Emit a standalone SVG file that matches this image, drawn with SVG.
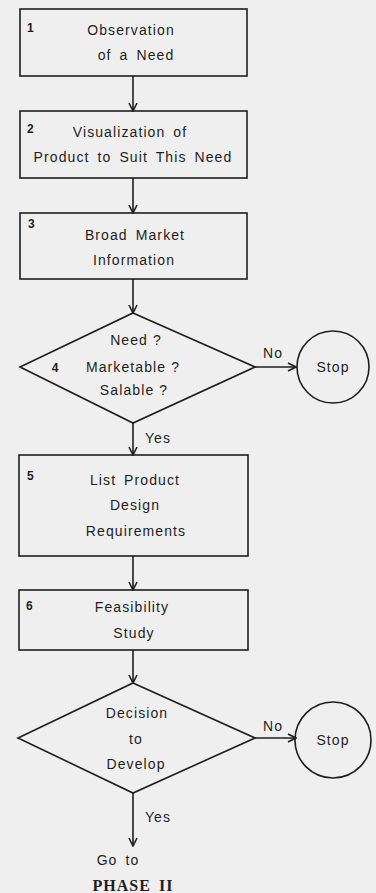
<svg xmlns="http://www.w3.org/2000/svg" width="376" height="893" viewBox="0 0 376 893">
<style>
.bg{fill:#efefef}
.shape{fill:none;stroke:#1e1e1e;stroke-width:1.6}
.conn{stroke:#1e1e1e;stroke-width:1.6;fill:none}
text{font-family:"Liberation Sans",Arial,sans-serif;font-size:14px;fill:#1e1e1e;letter-spacing:1.1px;word-spacing:3px}
.c{text-anchor:middle}
.q{word-spacing:0}
.num{font-size:12px;font-weight:bold;letter-spacing:0}
.serif{font-family:"Liberation Serif","Times New Roman",serif;font-weight:bold;font-size:16px;letter-spacing:1px}
</style>
<defs>
<marker id="arr" viewBox="0 0 10 10" refX="9" refY="5" markerWidth="10" markerHeight="10" markerUnits="userSpaceOnUse" orient="auto">
<polyline points="1,1 9,5 1,9" fill="none" stroke="#1e1e1e" stroke-width="1.6"/>
</marker>
</defs>
<rect class="bg" x="0" y="0" width="376" height="893"/>
<g id="connectors">
<line class="conn" x1="133" y1="76" x2="133" y2="111" marker-end="url(#arr)"/>
<line class="conn" x1="133" y1="178" x2="133" y2="213" marker-end="url(#arr)"/>
<line class="conn" x1="133" y1="279" x2="133" y2="313" marker-end="url(#arr)"/>
<line class="conn" x1="255" y1="367" x2="296" y2="367" marker-end="url(#arr)"/>
<line class="conn" x1="133" y1="423" x2="133" y2="455" marker-end="url(#arr)"/>
<line class="conn" x1="133" y1="556" x2="133" y2="590" marker-end="url(#arr)"/>
<line class="conn" x1="133" y1="650" x2="133" y2="683" marker-end="url(#arr)"/>
<line class="conn" x1="255" y1="738" x2="296" y2="738" marker-end="url(#arr)"/>
<line class="conn" x1="133" y1="793" x2="133" y2="846" marker-end="url(#arr)"/>
<text x="273" y="358" class="c">No</text>
<text x="158" y="443" class="c">Yes</text>
<text x="273" y="731" class="c">No</text>
<text x="158" y="822" class="c">Yes</text>
</g>
<g id="n1">
<rect class="shape" x="20" y="9" width="227" height="67"/>
<text x="27" y="32" class="num">1</text>
<text x="131" y="35" class="c">Observation</text>
<text x="136" y="60" class="c">of a Need</text>
</g>
<g id="n2">
<rect class="shape" x="20" y="111" width="227" height="67"/>
<text x="27" y="133" class="num">2</text>
<text x="130" y="137" class="c">Visualization of</text>
<text x="133" y="162" class="c">Product to Suit This Need</text>
</g>
<g id="n3">
<rect class="shape" x="20" y="213" width="227" height="66"/>
<text x="28" y="228" class="num">3</text>
<text x="135" y="240" class="c">Broad Market</text>
<text x="134" y="265" class="c">Information</text>
</g>
<g id="n4">
<polygon class="shape" points="133,313 255,367 133,423 20,367"/>
<text x="55" y="372" class="num c">4</text>
<text x="136" y="345" class="c q">Need ?</text>
<text x="133" y="372" class="c q">Marketable ?</text>
<text x="134" y="395" class="c q">Salable ?</text>
</g>
<g id="stop1">
<circle class="shape" cx="333" cy="367" r="36"/>
<text x="333" y="372" class="c">Stop</text>
</g>
<g id="n5">
<rect class="shape" x="19" y="455" width="229" height="101"/>
<text x="27" y="480" class="num">5</text>
<text x="135" y="485" class="c">List Product</text>
<text x="135" y="510" class="c">Design</text>
<text x="136" y="536" class="c">Requirements</text>
</g>
<g id="n6">
<rect class="shape" x="19" y="590" width="229" height="60"/>
<text x="26" y="610" class="num">6</text>
<text x="132" y="612" class="c">Feasibility</text>
<text x="134" y="638" class="c">Study</text>
</g>
<g id="n7">
<polygon class="shape" points="133,683 255,738 133,793 18,738"/>
<text x="137" y="718" class="c">Decision</text>
<text x="136" y="744" class="c">to</text>
<text x="136" y="769" class="c">Develop</text>
</g>
<g id="stop2">
<circle class="shape" cx="333" cy="740" r="38"/>
<text x="333" y="745" class="c">Stop</text>
</g>
<g id="phase2">
<text x="118" y="865" class="c">Go to</text>
<text x="133" y="891" class="serif c">PHASE II</text>
</g>
</svg>
